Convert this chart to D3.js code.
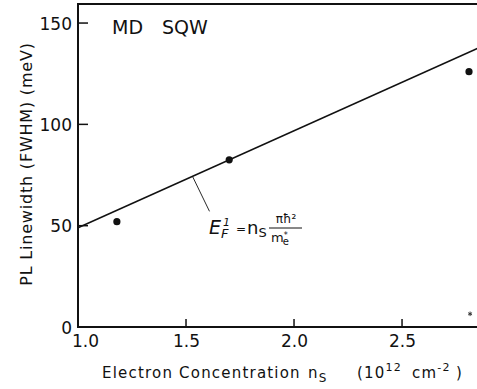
<!DOCTYPE html>
<html>
<head>
<meta charset="utf-8">
<script src="https://cdn.jsdelivr.net/npm/d3@7"></script>
<style>
  body { margin: 0; background: #fff; }
  text { font-family: "DejaVu Sans", sans-serif; fill: #111; }
</style>
</head>
<body>
<div class="chart"></div>
<script>
// data
const densities = [1.18, 1.70, 2.81];      // n_s (10^12 cm^-2)
const linewidths = [52, 82.5, 126];         // FWHM (meV)
const fitX = [1.0, 2.85];                   // fitted line ends
const fitY = [49, 137.5];
const strayX = [2.815], strayY = [6.5];     // small mark near the axis
const xTicks = [1.0, 1.5, 2.0, 2.5];
const yTicks = [0, 50, 100, 150];

const W = 477, H = 389;
const svg = d3.select(".chart").append("svg")
  .attr("width", W).attr("height", H);

const x = d3.scaleLinear().domain([1.0, 2.847]).range([78, 477]);
const y = d3.scaleLinear().domain([0, 159.4]).range([327, 4]);

// y axis labels
const yAxis = svg.append("g")
  .attr("transform", `translate(${x(1.0)},0)`)
  .call(d3.axisLeft(y).tickValues(yTicks).tickSize(0).tickPadding(6).tickFormat(d3.format("d")));
yAxis.select(".domain").remove();
yAxis.selectAll(".tick line").remove();
yAxis.selectAll(".tick text")
  .style("font-size", "17px").style("font-family", "DejaVu Sans").style("fill", "#111")
  .style("text-anchor", "end").attr("dy", "0.36em");

// x axis labels
const xAxis = svg.append("g")
  .attr("transform", `translate(0,${y(0)})`)
  .call(d3.axisBottom(x).tickValues(xTicks).tickSize(0).tickPadding(8).tickFormat(d3.format(".1f")));
xAxis.select(".domain").remove();
xAxis.selectAll(".tick line").remove();
xAxis.selectAll(".tick text")
  .style("font-size", "17px").style("font-family", "DejaVu Sans").style("fill", "#111")
  .style("text-anchor", "middle").attr("dy", "0.71em");
xAxis.selectAll(".tick").filter(d => d === 1.0).select("text").attr("dx", 7);

// frame (top, left, bottom)
const x0 = x(1.0), yTop = y(159.4), yBot = y(0);
svg.append("path")
  .attr("d", `M${W},${yTop}H${x0}V${yBot}H${W}`)
  .attr("fill", "none").attr("stroke", "#111").attr("stroke-width", 2);

// inward tick marks
svg.selectAll("line.ytick")
  .data(yTicks.filter(d => d > 0))
  .join("line").attr("class", "ytick")
  .attr("x1", x0).attr("x2", x0 + 10).attr("y1", d => y(d)).attr("y2", d => y(d))
  .attr("stroke", "#111").attr("stroke-width", 1.5);
svg.selectAll("line.xtick")
  .data(xTicks.filter(d => d > 1.0))
  .join("line").attr("class", "xtick")
  .attr("x1", d => x(d)).attr("x2", d => x(d)).attr("y1", yBot).attr("y2", yBot - 8)
  .attr("stroke", "#111").attr("stroke-width", 1.5);

// fitted line
svg.append("path")
  .datum(fitX.map((d, i) => [d, fitY[i]]))
  .attr("fill", "none").attr("stroke", "#111").attr("stroke-width", 1.5)
  .attr("d", d3.line().x(d => x(d[0])).y(d => y(d[1])));

// points
svg.selectAll("circle.pt")
  .data(densities.map((d, i) => [d, linewidths[i]]))
  .join("circle").attr("class", "pt")
  .attr("cx", d => x(d[0])).attr("cy", d => y(d[1])).attr("r", 3.6).attr("fill", "#111");

svg.selectAll("path.stray")
  .data(strayX.map((d, i) => [d, strayY[i]]))
  .join("path").attr("class", "stray")
  .attr("transform", d => `translate(${x(d[0])},${y(d[1])})`)
  .attr("d", d3.symbol(d3.symbolAsterisk, 14))
  .attr("stroke", "#333").attr("stroke-width", 1).attr("fill", "none");

// annotation leader
const lx = 1.53;
const ly = fitY[0] + (lx - fitX[0]) * (fitY[1] - fitY[0]) / (fitX[1] - fitX[0]);
svg.append("line")
  .attr("x1", x(lx)).attr("y1", y(ly))
  .attr("x2", x(lx) + 17).attr("y2", y(ly) + 35)
  .attr("stroke", "#111").attr("stroke-width", 0.9);

// equation
const eq = svg.append("g").attr("transform", "translate(209,234)");
const ef = eq.append("text").style("font-style", "italic").style("font-size", "19px");
ef.append("tspan").text("E");
ef.append("tspan").style("font-size", "11px").attr("dx", 2).attr("dy", -8).text("1");
ef.append("tspan").style("font-size", "13px").attr("dx", -9).attr("dy", 12).text("F");
eq.append("text").attr("x", 27).attr("y", -1).style("font-size", "12px").text("=");
const ns = eq.append("text").attr("x", 38).style("font-size", "18px");
ns.append("tspan").text("n");
ns.append("tspan").style("font-size", "13px").attr("dy", 3).text("S");
eq.append("text").attr("x", 77).attr("y", -11).style("text-anchor", "middle").style("font-size", "12px").text("\u03C0\u0127\u00B2");
eq.append("line").attr("x1", 60).attr("x2", 93).attr("y1", -6).attr("y2", -6).attr("stroke", "#111").attr("stroke-width", 1);
const me = eq.append("text").attr("x", 62).attr("y", 8).style("font-size", "13px");
me.append("tspan").text("m");
me.append("tspan").style("font-size", "8px").attr("dy", -4).text("*");
me.append("tspan").style("font-size", "10px").attr("dx", -5).attr("dy", 7).text("e");

// title
svg.append("text").attr("x", 112).attr("y", 34).style("font-size", "19px").text("MD");
svg.append("text").attr("x", 162).attr("y", 34).style("font-size", "19px").text("SQW");

// y label
svg.append("text")
  .attr("transform", "translate(32,164) rotate(-90)")
  .style("text-anchor", "middle").style("font-size", "16px").style("letter-spacing", "0.8px")
  .text("PL Linewidth (FWHM) (meV)");

// x label
const xl = svg.append("text").attr("x", 102).attr("y", 378).style("font-size", "15px").style("letter-spacing", "1.2px");
xl.append("tspan").text("Electron Concentration");
xl.append("tspan").attr("x", 308).text("n");
xl.append("tspan").style("font-size", "12px").attr("dy", 4).text("S");
xl.append("tspan").attr("x", 357).attr("dy", -4).text("(10");
xl.append("tspan").style("font-size", "11px").attr("dy", -7).text("12");
xl.append("tspan").attr("x", 412).attr("dy", 7).text("cm");
xl.append("tspan").style("font-size", "11px").attr("dy", -7).text("-2");
xl.append("tspan").attr("x", 456).attr("dy", 7).text(")");
</script>
</body>
</html>
